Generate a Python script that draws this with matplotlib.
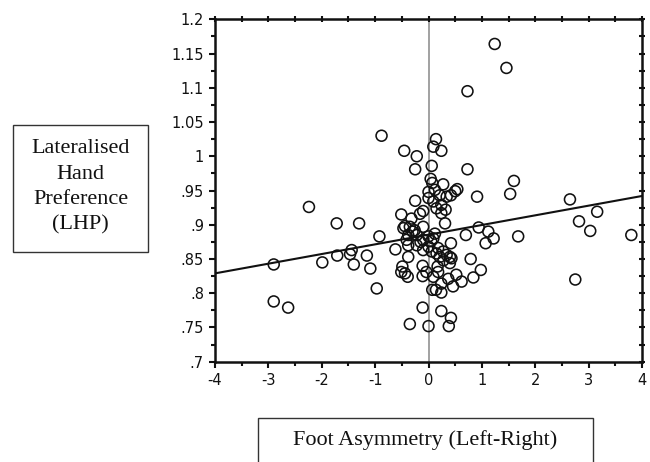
"""
Scatter of lateralised hand preference (LHP) against foot asymmetry,
with the fitted regression line and a grey reference line at x = 0.

Values were read off the published figure by eye, so treat them as
approximate.
"""

import matplotlib
matplotlib.use("Agg")
import matplotlib.pyplot as plt
from matplotlib.patches import Rectangle
from matplotlib.ticker import MultipleLocator, FuncFormatter

# foot asymmetry (left - right) for each participant
foot_asym = [
    1.24, 1.46, 0.73, -0.88, -0.455, -0.22, -0.25, 0.14, 0.09, 0.24,
    0.06, 0.73, 0.04, 0.07, 0.275, 0.54, 0.50, 0.91, 1.60, 1.53,
    2.65, 3.16, 2.82, 3.03, 3.80, 1.68, 2.75,
    0.00, 0.12, 0.21, 0.34, 0.42, -0.25, 0.00, 0.09, 0.24, 0.32,
    0.15, -0.10, -0.16, -0.51, 0.24, 0.31, -0.32,
    -0.44, -0.47, -0.35, -0.26, -0.10, 0.12, -0.38, -0.22, 0.00, 0.09,
    -0.10, -0.41, -0.38, -0.22, 0.00, -0.10, 0.06, 0.18, 0.275, 0.34,
    0.40, 0.21, 0.42, 0.70, 0.94, 1.12, 1.22, 1.07,
    -0.30, -0.15, 0.05, 0.28, 0.15,
    -2.24, -1.72, -1.30, -0.92, -1.44, -1.47, -1.71, -1.155, -1.99, -1.40,
    -1.09, -0.97, -2.90, -2.90, -2.63, -0.62,
    -0.38, -0.49, -0.44, -0.39, -0.51, -0.11, -0.11, -0.04, 0.09, 0.18,
    0.17, 0.40, 0.43, 0.52, 0.37, 0.46, 0.62, 0.84, 0.98, 0.79,
    0.24, 0.07, 0.14, 0.24, -0.11, 0.24, 0.42, 0.38, 0.00, -0.35,
]

# lateralised hand preference, same order as foot_asym
lhp = [
    1.164, 1.129, 1.095, 1.030, 1.008, 1.000, 0.981, 1.025, 1.014, 1.008,
    0.986, 0.981, 0.967, 0.961, 0.959, 0.952, 0.949, 0.941, 0.964, 0.945,
    0.937, 0.919, 0.905, 0.891, 0.885, 0.883, 0.820,
    0.948, 0.951, 0.943, 0.941, 0.943, 0.935, 0.939, 0.934, 0.929, 0.922,
    0.924, 0.920, 0.916, 0.915, 0.917, 0.902, 0.909,
    0.898, 0.895, 0.897, 0.892, 0.897, 0.887, 0.885, 0.885, 0.883, 0.880,
    0.878, 0.878, 0.870, 0.870, 0.868, 0.863, 0.861, 0.866, 0.861, 0.856,
    0.853, 0.853, 0.873, 0.885, 0.896, 0.890, 0.880, 0.873,
    0.890, 0.875, 0.876, 0.848, 0.858,
    0.926, 0.902, 0.902, 0.883, 0.863, 0.857, 0.855, 0.855, 0.845, 0.842,
    0.836, 0.807, 0.842, 0.788, 0.779, 0.864,
    0.853, 0.839, 0.829, 0.824, 0.831, 0.840, 0.825, 0.831, 0.824, 0.831,
    0.839, 0.844, 0.851, 0.827, 0.821, 0.810, 0.817, 0.823, 0.834, 0.850,
    0.814, 0.805, 0.805, 0.801, 0.779, 0.774, 0.764, 0.752, 0.752, 0.755,
]

# regression line end points as drawn in the figure
fit_x = [-4, 4]
fit_y = [0.829, 0.942]

x_range = (-4, 4)
y_range = (0.7, 1.2)

y_box_text = "Lateralised\nHand\nPreference\n(LHP)"
x_box_text = "Foot Asymmetry (Left-Right)"


def short_decimal(v, pos=None):
    """Tick labels like the original: '.85' instead of '0.85', '1' not '1.00'."""
    s = f"{v:.2f}".rstrip("0").rstrip(".")
    if s.startswith("0."):
        s = s[1:]
    return s


def main():
    plt.rcParams["axes.unicode_minus"] = False
    plt.rcParams["font.family"] = "DejaVu Sans"

    fig = plt.figure(figsize=(6.5, 4.62), dpi=100)
    ax = fig.add_axes([0.3308, 0.2171, 0.6569, 0.7411])

    ax.axvline(0, color="#9a9a9a", lw=1.3, zorder=1)
    ax.plot(fit_x, fit_y, color="#111111", lw=1.5, zorder=2)
    ax.scatter(foot_asym, lhp, s=62, facecolors="none", edgecolors="#111111",
               linewidths=1.15, zorder=3)

    ax.set_xlim(*x_range)
    ax.set_ylim(*y_range)

    ax.xaxis.set_major_locator(MultipleLocator(1))
    ax.xaxis.set_minor_locator(MultipleLocator(0.5))
    ax.yaxis.set_major_locator(MultipleLocator(0.05))
    ax.yaxis.set_minor_locator(MultipleLocator(0.025))
    ax.yaxis.set_major_formatter(FuncFormatter(short_decimal))
    ax.xaxis.set_major_formatter(FuncFormatter(lambda v, p: f"{v:.0f}"))

    for spine in ax.spines.values():
        spine.set_linewidth(1.8)
        spine.set_color("#111111")

    ax.tick_params(which="both", top=True, right=True, labelsize=10.5,
                   colors="#111111", width=1.5)
    ax.tick_params(which="major", length=4.5)
    ax.tick_params(which="minor", length=3)
    ax.tick_params(axis="x", which="both", top=True, direction="out")
    ax.tick_params(axis="y", which="both", direction="out")
    # top and right ticks straddle the frame
    for t in ax.xaxis.get_ticklines(minor=False)[1::2] + ax.xaxis.get_ticklines(minor=True)[1::2]:
        t.set_marker("|")
        t.set_markersize(4.5)
    for t in ax.yaxis.get_ticklines(minor=False)[1::2] + ax.yaxis.get_ticklines(minor=True)[1::2]:
        t.set_marker("_")
        t.set_markersize(4.5)

    # boxed axis titles, placed in figure pixels
    W, H = 650, 462
    fig.patches.append(Rectangle((13 / W, 1 - 252 / H), 135 / W, 127 / H,
                                 transform=fig.transFigure, fill=False,
                                 edgecolor="#333333", lw=1.0))
    fig.text(80.5 / W, 1 - 187 / H, y_box_text, ha="center", va="center",
             family="Liberation Serif", fontsize=16, linespacing=1.45,
             color="#111111")

    fig.patches.append(Rectangle((258 / W, -20 / H), 335 / W, (462 - 418 + 20) / H,
                                 transform=fig.transFigure, fill=False,
                                 edgecolor="#333333", lw=1.0))
    fig.text(425 / W, 1 - 440 / H, x_box_text, ha="center", va="center",
             family="Liberation Serif", fontsize=16, color="#111111")

    fig.savefig("out.png", dpi=100)
    plt.close(fig)


if __name__ == "__main__":
    main()
